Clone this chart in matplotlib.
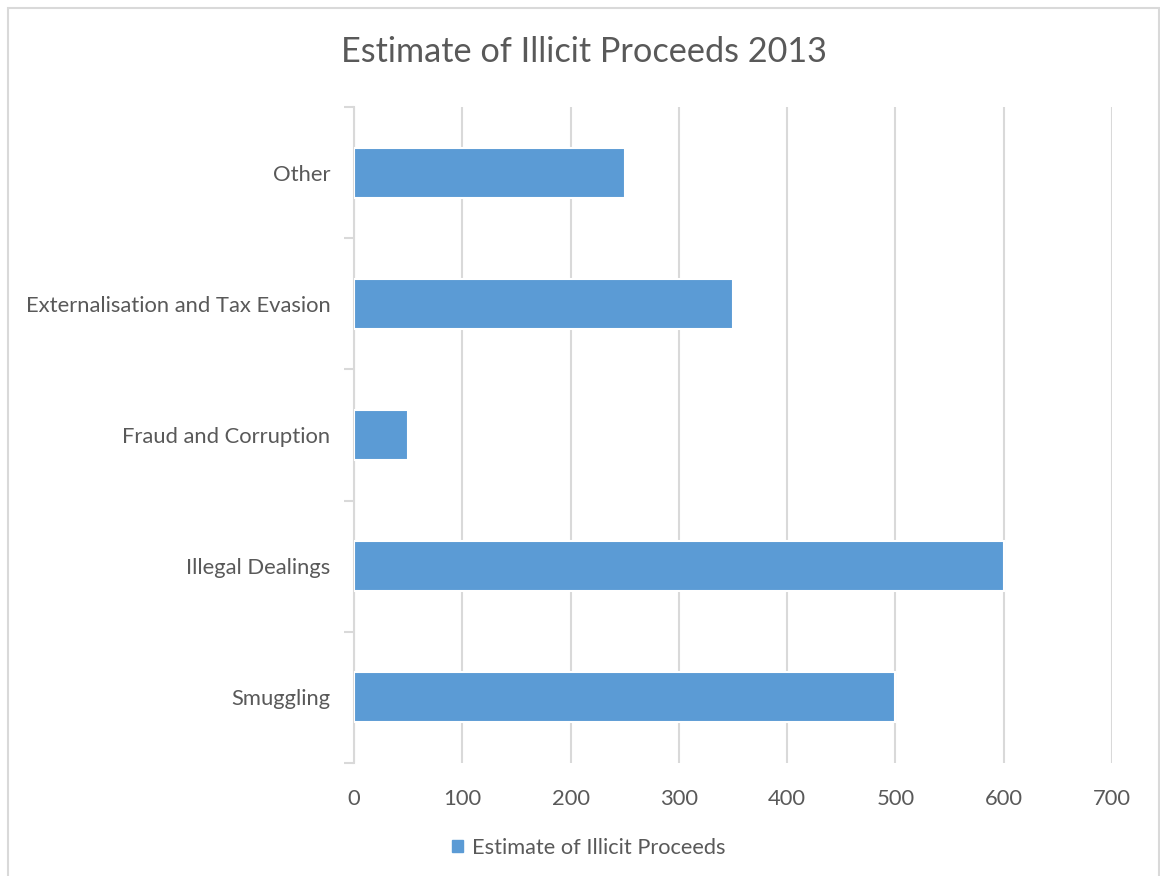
import matplotlib
matplotlib.use("Agg")
import matplotlib.pyplot as plt
from matplotlib.patches import Rectangle
import numpy as np

categories = ["Smuggling", "Illegal Dealings", "Fraud and Corruption",
              "Externalisation and Tax Evasion", "Other"]
values = [500, 600, 50, 350, 250]
xticks = [0, 100, 200, 300, 400, 500, 600, 700]
series_name = "Estimate of Illicit Proceeds"
title = "Estimate of Illicit Proceeds 2013"

plt.rcParams['font.family'] = ['Lato', 'DejaVu Sans']
txt = "#595959"
gridc = "#d9d9d9"
barc = "#5b9bd5"

fig = plt.figure(figsize=(11.6, 8.76), dpi=100)
fig.patches.append(Rectangle((8/1160, -0.01), (1159-8)/1160, 1 - 8/876 + 0.01,
                             transform=fig.transFigure, fill=False,
                             edgecolor=gridc, linewidth=1.5))
ax = fig.add_axes([354/1160, 1 - 763/876, (1112-354)/1160, (763-107)/876])

y = np.arange(len(categories))
ax.barh(y, values, height=0.38, color=barc, edgecolor="white", linewidth=1.5, zorder=3)
ax.set_xlim(0, 700)
ax.set_ylim(-0.5, len(categories) - 0.5)
ax.set_xticks(xticks)
ax.set_xticklabels([str(v) for v in xticks], fontsize=15.8, color=txt)
ax.set_yticks(y)
ax.set_yticklabels(categories, fontsize=15.8, color=txt)
ax.set_yticks(np.arange(-0.5, len(categories), 1), minor=True)
ax.tick_params(axis='y', which='major', length=0, pad=17)
ax.tick_params(axis='y', which='minor', length=7, color=gridc, width=1.5)
ax.tick_params(axis='x', length=0, pad=19)
ax.grid(axis='x', color=gridc, linewidth=1.5, zorder=0)
ax.set_axisbelow(True)
for s in ['top', 'right', 'bottom']:
    ax.spines[s].set_visible(False)
ax.spines['left'].set_color(gridc)
ax.spines['left'].set_linewidth(1.5)

fig.text(584/1160, 1 - 52/876, title, ha='center', va='center', fontsize=24.7, color=txt)

handle = Rectangle((0, 0), 1, 1, color=barc)
fig.legend([handle], [series_name], loc='center', bbox_to_anchor=(589/1160, 1 - 848/876),
           frameon=False, fontsize=15.7, labelcolor=txt, handlelength=0.5, handleheight=0.5,
           handletextpad=0.4)

fig.savefig("out.png", dpi=100)
